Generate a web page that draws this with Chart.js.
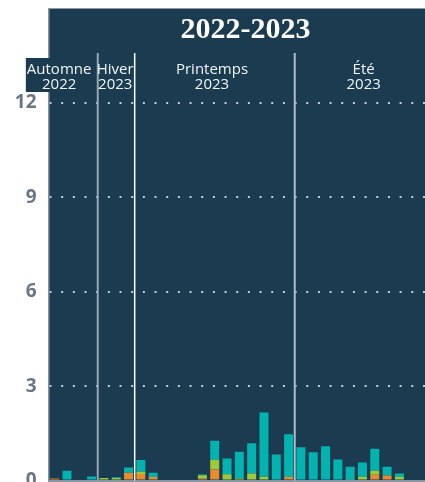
<!DOCTYPE html>
<html lang="fr">
<head>
<meta charset="utf-8">
<title>2022-2023</title>
<script src="https://cdn.jsdelivr.net/npm/chart.js@4.4.1/dist/chart.umd.min.js"></script>
<style>
  html, body { margin: 0; padding: 0; background: #fff; overflow: hidden; }
  #wrap { width: 460px; height: 482px; position: relative; }
</style>
</head>
<body>
<div id="wrap"><canvas id="seasonChart"></canvas></div>
<script>
const weeks = ['S1', 'S2', 'S3', 'S4', 'S5', 'S6', 'S7', 'S8', 'S9', 'S10', 'S11', 'S12', 'S13', 'S14', 'S15', 'S16',
    'S17', 'S18', 'S19', 'S20', 'S21', 'S22', 'S23', 'S24', 'S25', 'S26', 'S27', 'S28', 'S29', 'S30', 'S31', 'S32'];

// stacked from the bottom: orange, vert, turquoise
const orangeVals = [0.06, 0, 0, 0, 0, 0, 0.25, 0.21, 0.11, 0, 0, 0, 0.06, 0.35, 0, 0,
    0, 0, 0, 0.11, 0, 0.03, 0, 0, 0, 0, 0.18, 0.16, 0, 0, 0, 0];
const greenVals = [0, 0.03, 0.03, 0.03, 0.08, 0.08, 0, 0.07, 0, 0.03, 0.03, 0.03, 0.11, 0.31, 0.2, 0.06,
    0.22, 0.12, 0.03, 0, 0.03, 0, 0.03, 0.03, 0.02, 0.12, 0.13, 0, 0.12, 0.03, 0.03, 0.03];
const tealVals = [0, 0.28, 0, 0.1, 0, 0.02, 0.16, 0.37, 0.14, 0, 0, 0, 0.02, 0.6, 0.5, 0.85,
    0.96, 2.04, 0.8, 1.36, 1.03, 0.87, 1.06, 0.64, 0.42, 0.45, 0.7, 0.28, 0.1, 0, 0, 0];

const yTicks = [0, 3, 6, 9, 12];
const seasonNames = [['Automne', '2022'], ['Hiver', '2023'], ['Printemps', '2023'], ['Été', '2023']];
const seasonWeeks = [4, 3, 13, 12];

const NAVY = '#1a3b50';

// background, season separators, season labels and title
const seasonPlugin = {
    id: 'seasons',
    beforeDraw(chart) {
        const { ctx, chartArea } = chart;
        ctx.save();
        ctx.fillStyle = NAVY;
        ctx.fillRect(chartArea.left, chartArea.top, chart.width - chartArea.left, chartArea.bottom - chartArea.top);
        ctx.restore();
    },
    beforeDatasetsDraw(chart, args, opts) {
        const { ctx, chartArea } = chart;
        const x = chart.scales.x;
        ctx.save();
        ctx.font = '15px "Open Sans"';
        ctx.textAlign = 'center';
        ctx.textBaseline = 'alphabetic';

        let start = 0;
        const centers = [];
        seasonWeeks.forEach((n, i) => {
            const left = x.getPixelForValue(start - 0.5);
            const right = x.getPixelForValue(start + n - 0.5);
            centers.push((left + right) / 2 + opts.labelShift[i]);
            start += n;
        });

        // label boxes
        seasonNames.forEach((lines, i) => {
            const w = Math.max(...lines.map(t => ctx.measureText(t).width));
            ctx.fillStyle = NAVY;
            ctx.fillRect(centers[i] - w / 2 - 1, 58, w + 2, 34);
        });

        // separators
        start = 0;
        seasonWeeks.slice(0, -1).forEach((n, i) => {
            start += n;
            const px = x.getPixelForValue(start - 0.5);
            ctx.strokeStyle = opts.lineColors[i];
            ctx.lineWidth = opts.lineWidths[i];
            ctx.beginPath();
            ctx.moveTo(px, 53);
            ctx.lineTo(px, chartArea.bottom);
            ctx.stroke();
        });

        // label text
        ctx.fillStyle = '#f2f5f8';
        seasonNames.forEach((lines, i) => {
            ctx.fillText(lines[0], centers[i], 74);
            ctx.fillText(lines[1], centers[i], 89);
        });

        // title
        ctx.font = 'bold 30px "Liberation Serif"';
        ctx.fillStyle = '#ffffff';
        ctx.fillText('2022-2023', (chartArea.left + chartArea.right) / 2, 38);
        ctx.restore();
    }
};

const ctx = document.getElementById('seasonChart').getContext('2d');
const seasonChart = new Chart(ctx, {
    type: 'bar',
    data: {
        labels: weeks,
        datasets: [
            { label: 'Orange', data: orangeVals, backgroundColor: '#e98a2b' },
            { label: 'Vert', data: greenVals, backgroundColor: '#9dca3b' },
            { label: 'Turquoise', data: tealVals, backgroundColor: '#02b3b0' },
        ]
    },
    plugins: [seasonPlugin],
    options: {
        responsive: true,
        maintainAspectRatio: false,
        animation: false,
        layout: { padding: { top: 8.5, right: 17.5, bottom: 1.5, left: 0 } },
        datasets: { bar: { categoryPercentage: 1, barPercentage: 0.73, borderWidth: 0 } },
        plugins: {
            legend: { display: false },
            title: { display: false },
            tooltip: { enabled: false },
            seasons: {
                labelShift: [-14, -1, -2.7, -5],
                lineColors: ['#97a6b4', '#ffffff', '#aebbc7'],
                lineWidths: [2, 1.5, 2]
            }
        },
        scales: {
            x: {
                stacked: true,
                afterFit: s => { s.height = 0; s.paddingLeft = 0; s.paddingRight = 0; },
                ticks: { display: false },
                grid: { display: false, drawTicks: false },
                border: { display: true, color: '#8795a3', width: 2 }
            },
            y: {
                stacked: true,
                min: 0,
                max: 15,
                afterFit: s => { s.width = 48.5; s.paddingTop = 0; s.paddingBottom = 0; },
                afterBuildTicks: s => { s.ticks = [...yTicks, 15].map(v => ({ value: v })); },
                ticks: {
                    padding: 12,
                    color: '#6b7588',
                    font: { family: '"Open Sans"', size: 19, weight: 'bold' },
                    callback: v => (yTicks.includes(v) ? v : '')
                },
                grid: {
                    drawTicks: false,
                    lineWidth: 2,
                    color: c => (c.tick && c.tick.value > 0 && c.tick.value < 15 ? 'rgba(215,223,230,0.9)' : 'rgba(0,0,0,0)')
                },
                border: { display: true, color: '#8795a3', width: 1.5, dash: [2, 9.67] }
            }
        }
    }
});
</script>
</body>
</html>
